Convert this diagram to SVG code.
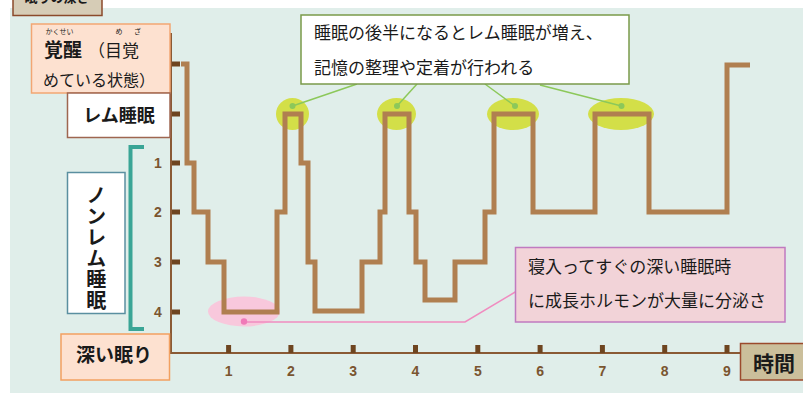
<svg xmlns="http://www.w3.org/2000/svg" width="803" height="393" viewBox="0 0 803 393">
<style>
text{font-family:"Noto Sans CJK JP","Noto Sans",sans-serif;fill:#1a1a1a}
.b{font-weight:bold}
.tick{stroke:#6e4520;stroke-width:5}
.num{font-family:"Liberation Sans","Noto Sans",sans-serif;font-weight:bold;font-size:14px;fill:#7a5530;text-anchor:middle}
.hl{fill:#d3df48}
.dot{fill:#8cc85a}
.gline{stroke:#8cc85a;stroke-width:1.5;fill:none}
</style>
<rect x="0" y="0" width="803" height="393" fill="#ffffff"/>
<rect x="10" y="8" width="793" height="385" fill="#e0eeea"/>

<g id="title">
<rect x="13" y="-20" width="89" height="35.5" fill="#d6ccb6" stroke="#8b4a2b" stroke-width="1.5"/>
<text x="57" y="2" class="b" font-size="13" text-anchor="middle">眠りの深さ</text>
</g>

<g id="highlights">
<ellipse cx="292.5" cy="114" rx="16.5" ry="16" class="hl"/>
<ellipse cx="396.5" cy="114" rx="19.5" ry="16" class="hl"/>
<ellipse cx="513" cy="114" rx="26" ry="16" class="hl"/>
<ellipse cx="621" cy="114" rx="33" ry="16" class="hl"/>
<ellipse cx="244" cy="311.5" rx="36" ry="15" fill="#f8c8dc"/>
</g>

<g id="axes">
<line x1="171" y1="33" x2="171" y2="353" stroke="#8a5a35" stroke-width="2"/>
<line x1="170" y1="353" x2="741" y2="353" stroke="#8a5a35" stroke-width="2"/>
<g class="tick">
<line x1="172" y1="64" x2="180" y2="64"/>
<line x1="172" y1="114" x2="180" y2="114"/>
<line x1="172" y1="163" x2="180" y2="163"/>
<line x1="172" y1="212" x2="180" y2="212"/>
<line x1="172" y1="262" x2="180" y2="262"/>
<line x1="172" y1="312" x2="180" y2="312"/>
<line x1="228.6" y1="345" x2="228.6" y2="353"/>
<line x1="290.9" y1="345" x2="290.9" y2="353"/>
<line x1="353.2" y1="345" x2="353.2" y2="353"/>
<line x1="415.5" y1="345" x2="415.5" y2="353"/>
<line x1="477.8" y1="345" x2="477.8" y2="353"/>
<line x1="540.1" y1="345" x2="540.1" y2="353"/>
<line x1="602.4" y1="345" x2="602.4" y2="353"/>
<line x1="664.7" y1="345" x2="664.7" y2="353"/>
<line x1="727" y1="345" x2="727" y2="353"/>
</g>
<text class="num" x="158" y="168">1</text>
<text class="num" x="158" y="217">2</text>
<text class="num" x="158" y="267">3</text>
<text class="num" x="158" y="317">4</text>
<text class="num" x="228.6" y="375.5">1</text>
<text class="num" x="290.9" y="375.5">2</text>
<text class="num" x="353.2" y="375.5">3</text>
<text class="num" x="415.5" y="375.5">4</text>
<text class="num" x="477.8" y="375.5">5</text>
<text class="num" x="540.1" y="375.5">6</text>
<text class="num" x="602.4" y="375.5">7</text>
<text class="num" x="664.7" y="375.5">8</text>
<text class="num" x="727" y="375.5">9</text>
</g>

<g id="curve">
<path d="M181,64 H187 V163 H194 V212 H208 V262 H224 V312 H277 V212 H285 V114 H301 V163 H308 V262 H315 V311 H362 V262 H380 V212 H385 V114 H409 V212 H416 V262 H425 V300 H455 V262 H485 V212 H494 V114 H533 V212 H595 V114 H649 V212 H727 V65 H750" fill="none" stroke="#b07f50" stroke-width="5"/>
</g>

<g id="connectors">
<line x1="292.5" y1="106" x2="357" y2="84" class="gline"/>
<line x1="397" y1="106" x2="417" y2="84" class="gline"/>
<line x1="515" y1="106" x2="485" y2="84" class="gline"/>
<line x1="621.5" y1="106" x2="540" y2="85" class="gline"/>
<circle cx="292.5" cy="106" r="3" class="dot"/>
<circle cx="397" cy="106" r="3" class="dot"/>
<circle cx="515" cy="106" r="3" class="dot"/>
<circle cx="621.5" cy="106" r="3" class="dot"/>
<polyline points="244,322 465,322 516,291.5" fill="none" stroke="#f08cc0" stroke-width="1.5"/>
<circle cx="244" cy="321.5" r="3.2" fill="#f07ab8"/>
</g>

<g id="awake">
<rect x="31.5" y="24" width="138.5" height="69" fill="#fde1d0" stroke="#f2a673" stroke-width="1.5"/>
<text x="45.5" y="34" font-size="7">かくせい</text>
<text x="119" y="34" font-size="7" text-anchor="middle">め</text>
<text x="137.5" y="34" font-size="7" text-anchor="middle">ざ</text>
<text x="44" y="57" class="b" font-size="19">覚醒</text>
<text x="88" y="57" font-size="17">（目覚</text>
<text x="43" y="86" font-size="16">めている状態）</text>
</g>

<g id="rem">
<rect x="67.5" y="93" width="102.5" height="44.5" fill="#ffffff" stroke="#9e6650" stroke-width="1.5"/>
<text x="119" y="121.5" class="b" font-size="18" text-anchor="middle">レム睡眠</text>
</g>

<g id="nonrem">
<path d="M144,147 H130.5 V329 H144" fill="none" stroke="#3aa596" stroke-width="4"/>
<rect x="67.5" y="172.5" width="57.5" height="141" fill="#ffffff" stroke="#5a8fa0" stroke-width="1.5"/>
<text x="96.3" y="185" class="b" font-size="20" writing-mode="vertical-rl" letter-spacing="1">ノンレム睡眠</text>
</g>

<g id="deep">
<rect x="61" y="334" width="108.5" height="46" fill="#fde1d0" stroke="#f2a060" stroke-width="1.5"/>
<text x="114" y="362" class="b" font-size="19" text-anchor="middle">深い眠り</text>
</g>

<g id="time">
<rect x="740.5" y="343.5" width="70" height="36.5" fill="#cbbf9b" stroke="#9b4a2c" stroke-width="1.5"/>
<text x="753" y="370.5" class="b" font-size="21">時間</text>
</g>

<g id="callout-rem">
<rect x="301" y="15" width="328" height="69" fill="#ffffff" stroke="#7a9a4a" stroke-width="1.5"/>
<text x="314" y="39" font-size="17">睡眠の後半になるとレム睡眠が増え、</text>
<text x="314" y="74" font-size="17">記憶の整理や定着が行われる</text>
</g>

<g id="callout-gh">
<rect x="515.5" y="247.5" width="269.5" height="74.5" fill="#f2d3d8" stroke="#c07ac0" stroke-width="1.5"/>
<text x="528" y="273" font-size="17">寝入ってすぐの深い睡眠時</text>
<text x="528" y="307" font-size="17">に成長ホルモンが大量に分泌さ</text>
</g>
</svg>
